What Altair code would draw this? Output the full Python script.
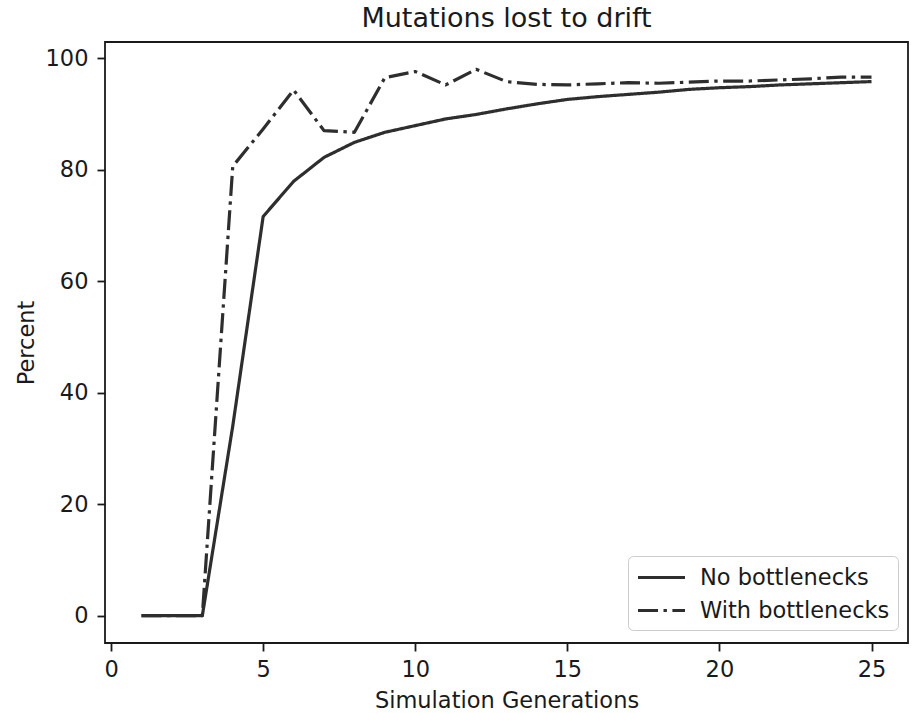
import altair as alt
import pandas as pd

generations = list(range(1, 26))
no_bottlenecks = [0, 0, 0, 34, 71.6, 77.9, 82.2, 84.9, 86.7, 87.9, 89.1, 89.9, 90.9,
                  91.8, 92.6, 93.1, 93.5, 93.9, 94.4, 94.7, 94.9, 95.2, 95.4, 95.6, 95.8]
with_bottlenecks = [0, 0, 0, 80.6, 87.3, 94.3, 87.0, 86.7, 96.5, 97.6, 95.2, 98.0, 95.8,
                    95.3, 95.2, 95.4, 95.6, 95.5, 95.7, 95.9, 95.9, 96.1, 96.3, 96.6, 96.6]
series_names = ["No bottlenecks", "With bottlenecks"]
x_ticks = [0, 5, 10, 15, 20, 25]
y_ticks = [0, 20, 40, 60, 80, 100]

rows = []
for g, a, b in zip(generations, no_bottlenecks, with_bottlenecks):
    rows.append({"gen": g, "pct": a, "series": series_names[0]})
    rows.append({"gen": g, "pct": b, "series": series_names[1]})
df = pd.DataFrame(rows)

FONT = "DejaVu Sans"
INK = "#1a1a1a"
LINE = "#2e2e2e"

chart = (
    alt.Chart(df)
    .mark_line(strokeWidth=3.2, color=LINE, strokeCap="butt", strokeJoin="round")
    .encode(
        x=alt.X("gen:Q",
                scale=alt.Scale(domain=[-0.2, 26.2], nice=False, zero=False),
                axis=alt.Axis(values=x_ticks, title="Simulation Generations",
                              titleY=64, titleBaseline="alphabetic")),
        y=alt.Y("pct:Q",
                scale=alt.Scale(domain=[-4.9, 102.9], nice=False, zero=False),
                axis=alt.Axis(values=y_ticks, title="Percent",
                              titleX=-72, titleBaseline="alphabetic")),
        strokeDash=alt.StrokeDash(
            "series:N",
            scale=alt.Scale(domain=series_names, range=[[1, 0], [20, 5.5, 3.4, 5.5]]),
            legend=alt.Legend(
                title=None, orient="none", legendX=523, legendY=514,
                symbolType="M-2,0H2", symbolSize=552, symbolStrokeWidth=3.2,
                symbolStrokeColor=LINE, symbolOffset=12, labelFontSize=22.5, labelFont=FONT,
                labelColor=INK, labelOffset=25, labelLimit=400, padding=8, rowPadding=8,
                strokeColor="#cccccc", fillColor="#ffffff", cornerRadius=5,
            ),
        ),
        order="gen:Q",
    )
    .properties(
        width=803, height=601,
        title=alt.TitleParams("Mutations lost to drift", fontSize=27, font=FONT,
                              fontWeight="normal", anchor="middle", frame="group",
                              baseline="alphabetic", offset=13.5, dy=25.5, color=INK),
        autosize=alt.AutoSizeParams(type="none"),
        padding={"left": 105, "top": 42, "right": 6, "bottom": 70},
    )
    .configure_view(stroke=INK, strokeWidth=1.8)
    .configure_axis(
        grid=False, domain=False, ticks=True, tickSize=8, tickWidth=1.8,
        tickColor=INK, labelFont=FONT, labelFontSize=22.5, labelColor=INK,
        titleFont=FONT, titleFontSize=22.5, titleFontWeight="normal", titleColor=INK,
    )
    .configure_axisX(labelPadding=7)
    .configure_axisY(labelPadding=9)
)

chart.save("out.html", embed_options={"renderer": "svg", "actions": False})
